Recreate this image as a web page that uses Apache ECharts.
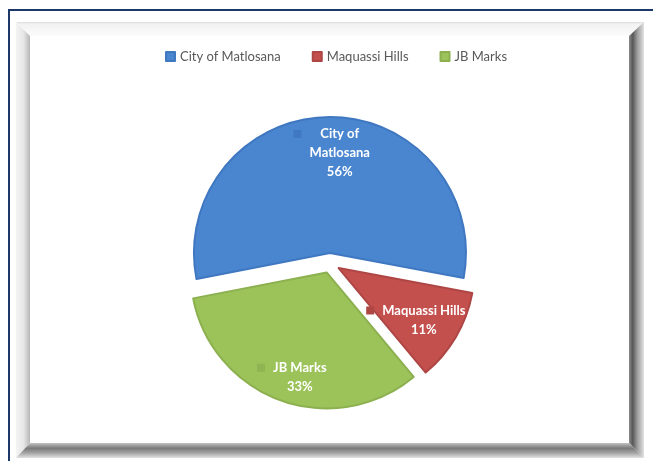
<!DOCTYPE html>
<html>
<head>
<meta charset="utf-8">
<script src="https://cdn.jsdelivr.net/npm/echarts@6/dist/echarts.min.js"></script>
<style>
  html, body { margin: 0; padding: 0; background: #ffffff; }
  #chart { width: 653px; height: 461px; }
</style>
</head>
<body>
<div id="chart"></div>
<script>
// Municipal shares, North West district
const categories = ['City of Matlosana', 'Maquassi Hills', 'JB Marks'];
const shares = [56, 11, 33];
const labelLines = [['City of', 'Matlosana'], ['Maquassi Hills'], ['JB Marks']];

const sliceColors = ['#4a86d0', '#c4504e', '#9cc35a'];
const edgeColors = ['#3f77c0', '#ad4644', '#8cb04f'];
const keyColors = ['#4078c2', '#ae4644', '#8fb552'];

// pie geometry
const CX = 330, CY = 263, R = 136, START = 191, OFFSET = 10;
const LABEL_FONT = 'bold 13px Lato';
const KEY = 8, KEY_GAP = 8;
// how far each data label sits from the slice's centre line point (px, screen axes)
const labelShift = [[2, -29], [16, 16], [-11, 38]];

const measure = (function () {
  const ctx = document.createElement('canvas').getContext('2d');
  ctx.font = LABEL_FONT;
  return function (s) { return ctx.measureText(s).width; };
})();

// data label: legend key on the left of a centred text block
function buildLabel(i) {
  const lines = labelLines[i].concat([shares[i] + '%']);
  const widths = lines.map(measure);
  const W = Math.max.apply(null, widths);
  const side = (W - widths[0]) / 2;
  const rich = {
    t: { color: '#ffffff', fontWeight: 'bold', fontSize: 13, fontFamily: 'Lato', lineHeight: 19 },
    k: { width: KEY, height: KEY, backgroundColor: keyColors[i] },
    g: { width: KEY_GAP + side },
    p: { width: side },
    s: { width: KEY + KEY_GAP }
  };
  let text = '{k| }{g| }{t|' + lines[0] + '}{p| }';
  for (let j = 1; j < lines.length; j++) text += '\n{s| }{t|' + lines[j] + '}';
  const dx = labelShift[i][0], dy = labelShift[i][1];
  return {
    show: true,
    position: 'inside',
    formatter: text,
    rich: rich,
    padding: [Math.max(0, 2 * dy), Math.max(0, -2 * dx), Math.max(0, -2 * dy), Math.max(0, 2 * dx)]
  };
}

const pieData = categories.map(function (name, i) {
  return {
    name: name,
    value: shares[i],
    selected: true,
    itemStyle: { color: sliceColors[i], borderColor: edgeColors[i], borderWidth: 2 },
    label: buildLabel(i)
  };
});

function bevel(points, vertical, stops) {
  return {
    type: 'polygon',
    silent: true,
    shape: { points: points },
    style: {
      fill: new echarts.graphic.LinearGradient(0, 0, vertical ? 0 : 1, vertical ? 1 : 0,
        stops.map(function (s) { return { offset: s[0], color: s[1] }; }))
    }
  };
}

const chart = echarts.init(document.getElementById('chart'), null, { renderer: 'canvas' });
chart.setOption({
  animation: false,
  backgroundColor: '#ffffff',
  graphic: [
    bevel([[16, 22], [644, 22], [629, 36], [30, 36]], true,
      [[0, '#dedede'], [0.15, '#f2f2f2'], [1, '#fcfcfc']]),
    bevel([[16, 22], [30, 36], [30, 443], [16, 458]], false,
      [[0, '#f4f4f4'], [0.55, '#e6e6e6'], [1, '#b6b6b6']]),
    bevel([[644, 22], [644, 458], [629, 443], [629, 36]], false,
      [[0, '#8a8a8a'], [0.25, '#585858'], [0.55, '#9c9c9c'], [1, '#e2e2e2']]),
    bevel([[16, 458], [644, 458], [629, 443], [30, 443]], true,
      [[0, '#c2c2c2'], [0.35, '#7a7a7a'], [0.65, '#a2a2a2'], [1, '#e2e2e2']]),
    { type: 'line', silent: true, shape: { x1: 9, y1: 10, x2: 653, y2: 10 },
      style: { stroke: '#1d3868', lineWidth: 2 } },
    { type: 'line', silent: true, shape: { x1: 9, y1: 9, x2: 9, y2: 461 },
      style: { stroke: '#1d3868', lineWidth: 2 } }
  ],
  legend: {
    top: 45,
    left: 160,
    icon: 'rect',
    itemWidth: 9,
    itemHeight: 9,
    itemGap: 31,
    selectedMode: false,
    textStyle: { color: '#595959', fontSize: 13, fontFamily: 'Lato' },
    data: categories
  },
  series: [{
    type: 'pie',
    center: [CX, CY],
    radius: [0, R],
    startAngle: START,
    clockwise: true,
    selectedMode: 'multiple',
    selectedOffset: OFFSET,
    avoidLabelOverlap: false,
    labelLine: { show: false },
    emphasis: { disabled: true },
    data: pieData
  }]
});
</script>
</body>
</html>
